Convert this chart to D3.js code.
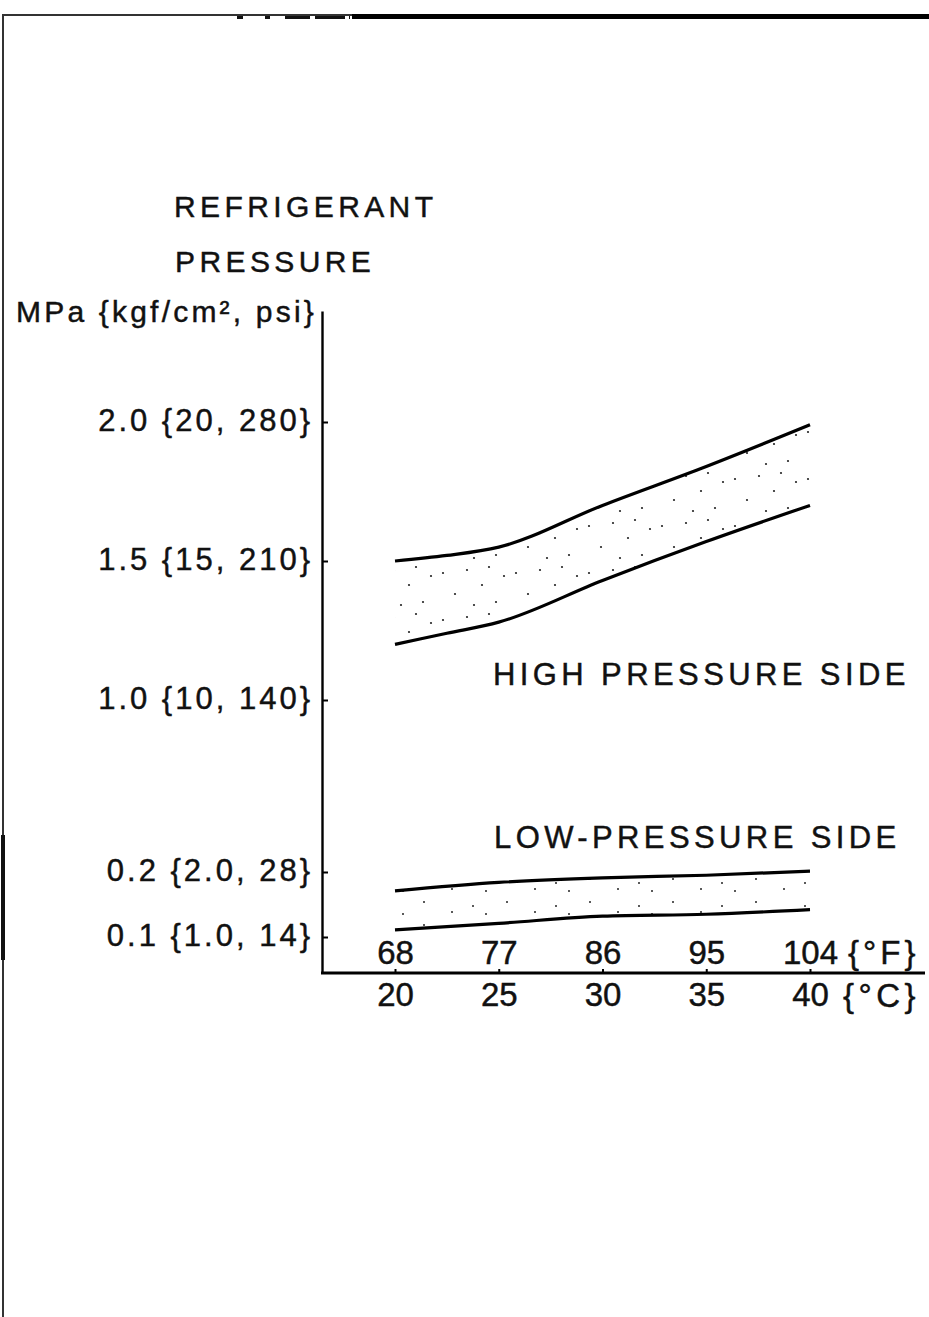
<!DOCTYPE html>
<html>
<head>
<meta charset="utf-8">
<script src="https://cdn.jsdelivr.net/npm/d3@7"></script>
<style>
  html, body { margin: 0; padding: 0; background: #fff; }
  svg { display: block; }
  text { font-family: "Liberation Sans", Arial, Helvetica, sans-serif; fill: #111; stroke: #111; stroke-width: 0.45px; }
</style>
</head>
<body>
<svg id="chart" width="929" height="1317"></svg>
<script>
// Refrigerant pressure vs. ambient temperature (normal operating bands)
const tempHigh = [20, 22.5, 25, 30, 35, 40];          // °C
const highUpper = [1.50, 1.52, 1.55, 1.70, 1.84, 1.99]; // MPa
const highLower = [1.20, 1.24, 1.28, 1.43, 1.57, 1.70]; // MPa

const tempLow = [20, 25, 30, 35, 40];                 // °C
const lowUpper = [0.171, 0.184, 0.191, 0.195, 0.204]; // MPa
const lowLower = [0.111, 0.121, 0.132, 0.135, 0.142]; // MPa

const yTickValues = [0.1, 0.2, 1.0, 1.5, 2.0];
const yTickLabels = ["0.1 {1.0, 14}", "0.2 {2.0, 28}", "1.0 {10, 140}", "1.5 {15, 210}", "2.0 {20, 280}"];
const cTicks = [20, 25, 30, 35, 40];
const fTicks = [68, 77, 86, 95, 104];

const svg = d3.select("#chart");
const FONT = "'Liberation Sans', Arial, sans-serif";

// Page frame
const frame = svg.append("g").attr("stroke-linecap", "butt");
frame.append("line").attr("x1", 3).attr("x2", 3).attr("y1", 14).attr("y2", 1317)
  .attr("stroke", "#333").attr("stroke-width", 2);
frame.append("line").attr("x1", 3).attr("x2", 3).attr("y1", 835).attr("y2", 960)
  .attr("stroke", "#111").attr("stroke-width", 4);
frame.append("line").attr("x1", 2).attr("x2", 929).attr("y1", 15).attr("y2", 15)
  .attr("stroke", "#333").attr("stroke-width", 2);
frame.append("line").attr("x1", 237).attr("x2", 350).attr("y1", 17.5).attr("y2", 17.5)
  .attr("stroke", "#111").attr("stroke-width", 3).attr("stroke-dasharray", "6 22 5 15 25 5 30 4");
frame.append("line").attr("x1", 352).attr("x2", 929).attr("y1", 16.5).attr("y2", 16.5)
  .attr("stroke", "#000").attr("stroke-width", 5);

// Scales: the pressure axis is compressed between 0.2 and 1.0 MPa
const y = d3.scaleLinear()
  .domain([0.045, 0.1, 0.2, 1.0, 2.0, 2.4])
  .range([973, 937, 872, 700, 422, 311]);
const x = d3.scaleLinear().domain([20, 40]).range([395, 810]);

const axisX = 322, baseY = 973, rightEdge = 925;

// Stipple fills for the bands
const defs = svg.append("defs");
const pHigh = defs.append("pattern").attr("id", "stippleHigh")
  .attr("patternUnits", "userSpaceOnUse").attr("width", 73).attr("height", 47);
[[5, 9], [17, 30], [29, 6], [44, 21], [58, 38], [66, 12], [36, 41], [51, 3]].forEach(([cx, cy]) =>
  pHigh.append("circle").attr("cx", cx).attr("cy", cy).attr("r", 1.1).attr("fill", "#222"));
const pLow = defs.append("pattern").attr("id", "stippleLow")
  .attr("patternUnits", "userSpaceOnUse").attr("width", 83).attr("height", 23);
[[9, 5], [37, 15], [58, 9], [71, 17]].forEach(([cx, cy]) =>
  pLow.append("circle").attr("cx", cx).attr("cy", cy).attr("r", 1.0).attr("fill", "#222"));

function band(temps, lower, upper, fillId) {
  const rows = temps.map((t, i) => ({ t, lo: lower[i], hi: upper[i] }));
  const area = d3.area().curve(d3.curveMonotoneX)
    .x(d => x(d.t)).y0(d => y(d.lo)).y1(d => y(d.hi));
  const line = key => d3.line().curve(d3.curveMonotoneX)
    .x(d => x(d.t)).y(d => y(d[key]));
  const g = svg.append("g");
  g.append("path").datum(rows).attr("d", area).attr("fill", `url(#${fillId})`);
  ["hi", "lo"].forEach(k =>
    g.append("path").datum(rows).attr("d", line(k))
      .attr("fill", "none").attr("stroke", "#000").attr("stroke-width", 3.2));
}
band(tempHigh, highLower, highUpper, "stippleHigh");
band(tempLow, lowLower, lowUpper, "stippleLow");

// Pressure axis
const yAxis = d3.axisLeft(y)
  .tickValues(yTickValues)
  .tickFormat((d, i) => yTickLabels[i])
  .tickSizeInner(-6).tickSizeOuter(0).tickPadding(9);
const gy = svg.append("g").attr("transform", `translate(${axisX},0)`).call(yAxis);
gy.select(".domain").attr("stroke", "#000").attr("stroke-width", 2.4);
gy.selectAll(".tick line").attr("stroke", "#000").attr("stroke-width", 2);
gy.selectAll(".tick text")
  .attr("font-size", 31).attr("letter-spacing", 3).attr("dy", "0.28em")
  .style("font-family", FONT).attr("fill", "#111");

// Temperature axis: °C below the baseline, °F above it
const gx = svg.append("g").attr("transform", `translate(0,${baseY})`);
gx.append("line").attr("x1", axisX - 1).attr("x2", rightEdge).attr("y1", 0).attr("y2", 0)
  .attr("stroke", "#000").attr("stroke-width", 3);
const xAxisC = d3.axisBottom(x).tickValues(cTicks).tickSizeInner(-4).tickSizeOuter(0).tickPadding(10);
const gc = gx.append("g").call(xAxisC);
gc.select(".domain").remove();
gc.selectAll(".tick line").attr("stroke", "#000").attr("stroke-width", 2);
gc.selectAll(".tick text").attr("font-size", 33)
  .style("font-family", FONT).attr("fill", "#111");

const xAxisF = d3.axisTop(x).tickValues(cTicks)
  .tickFormat((d, i) => fTicks[i]).tickSize(0).tickPadding(9);
const gf = gx.append("g").call(xAxisF);
gf.select(".domain").remove();
gf.selectAll(".tick text").attr("font-size", 33)
  .style("font-family", FONT).attr("fill", "#111");

// Unit labels
gx.append("text").attr("x", 848).attr("y", -9).attr("font-size", 33)
  .attr("letter-spacing", 4).text("{°F}");
gx.append("text").attr("x", 843).attr("y", 34).attr("font-size", 33)
  .attr("letter-spacing", 4.5).text("{°C}");

// Titles and band labels
svg.append("text").attr("x", 174).attr("y", 217).attr("font-size", 30)
  .attr("letter-spacing", 4.4).text("REFRIGERANT");
svg.append("text").attr("x", 175).attr("y", 272).attr("font-size", 30)
  .attr("letter-spacing", 4.4).text("PRESSURE");
svg.append("text").attr("x", 16).attr("y", 322).attr("font-size", 30)
  .attr("letter-spacing", 3.2).text("MPa {kgf/cm², psi}");

svg.append("text").attr("x", 493).attr("y", 685).attr("font-size", 31)
  .attr("letter-spacing", 4.4).text("HIGH PRESSURE SIDE");
svg.append("text").attr("x", 494).attr("y", 848).attr("font-size", 31)
  .attr("letter-spacing", 4.4).text("LOW-PRESSURE SIDE");
</script>
</body>
</html>
